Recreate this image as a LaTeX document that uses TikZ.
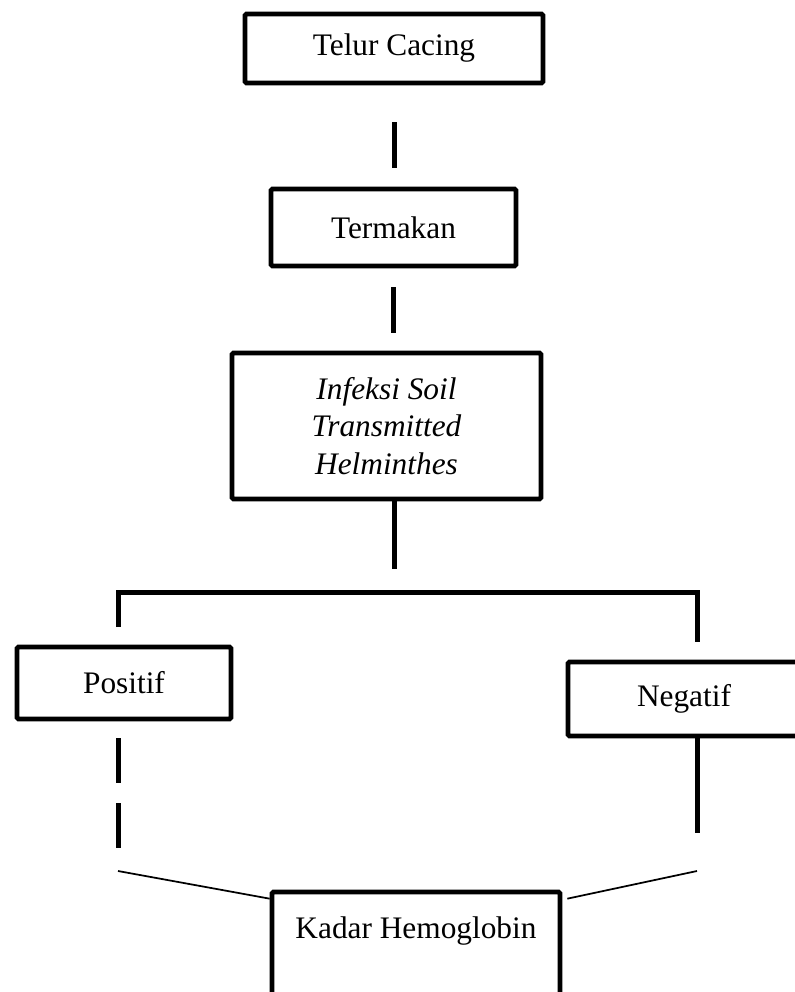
\documentclass[tikz,border=0pt]{standalone}
\usepackage{fontspec}
\setmainfont{Liberation Serif}
\usetikzlibrary{
  calc,
  positioning,
}
\tikzstyle{box} = [
  rectangle,
  draw,
  line width=3.5pt,
  rounded corners=1pt,
  align=center,
  inner sep=0pt,
  font=\fontsize{23.5}{28}\selectfont,
]
\tikzstyle{link} = [
  line width=3.75pt,
  line cap=butt,
]
\tikzstyle{thinlink} = [
  line width=1.3pt,
]

\begin{document}
\begin{tikzpicture}[x=0.75pt,y=-0.75pt]
			\useasboundingbox (0,0) rectangle (795,992);
			\clip (0,0) rectangle (795,992);

			\node[box,minimum width=223.5pt,minimum height=51.75pt] (telur) at (394,48.5) {Telur Cacing};
			\node[box,minimum width=183.75pt,minimum height=57.75pt] (termakan) at (393.5,227.5) {Termakan};
			\node[box,minimum width=231.75pt,minimum height=109.5pt] (infeksi) at (386.5,426) {\itshape Infeksi Soil\\\itshape Transmitted\\\itshape Helminthes};
			\node[box,minimum width=160.5pt,minimum height=54pt] (positif) at (124,683) {Positif};
			\node[box,minimum width=174pt,minimum height=55.5pt] (negatif) at (684,699) {Negatif};
			\node[box,minimum width=216pt,minimum height=81pt] (kadar) at (416,946) {Kadar Hemoglobin\\~};

			\coordinate (cabang) at (394,569);
			\coordinate (palang) at (394,592);
			\coordinate (kiri) at (118,627);
			\coordinate (kanan) at (697,642);
			\coordinate (posbawah) at (118,852);
			\coordinate (negbawah) at (697,833);
			\coordinate (posujung) at (118,871);
			\coordinate (negujung) at (697,871);

			\draw[link,shorten <=27.75pt,shorten >=14.25pt] (telur.south) -- (telur.south |- termakan.north);
			\draw[link,shorten <=14.25pt,shorten >=13.5pt] (termakan.south) -- (termakan.south |- infeksi.north);
			\draw[link] (infeksi.south -| cabang) -- (cabang);
			\draw[link,line join=miter] (kiri) |- (palang) -| (kanan);
			\draw[link,dash pattern=on 33.75pt off 15pt,shorten <=12.75pt] (positif.south -| kiri) -- (posbawah);
			\draw[link] (negatif.south -| kanan) -- (negbawah);
			\draw[thinlink] (posujung) -- ([yshift=-6.75pt]kadar.north west);
			\draw[thinlink] (negujung) -- ([xshift=3.75pt,yshift=-6.75pt]kadar.north east);
		\end{tikzpicture}
\end{document}
